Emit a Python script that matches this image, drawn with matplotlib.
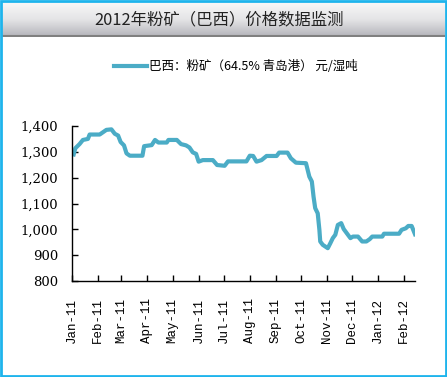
import numpy as np
import pandas as pd
import matplotlib.pyplot as plt
import matplotlib.dates as mdates
from matplotlib.patches import Rectangle

# price readings (yuan / wet ton)
dates = ['2011-01-03', '2011-01-05', '2011-01-10', '2011-01-14', '2011-01-20', '2011-01-22',
         '2011-02-03', '2011-02-07', '2011-02-11', '2011-02-17', '2011-02-21', '2011-02-25',
         '2011-02-28', '2011-03-04', '2011-03-07', '2011-03-11', '2011-03-26', '2011-03-28',
         '2011-04-06', '2011-04-10', '2011-04-14', '2011-04-24', '2011-04-26', '2011-05-06',
         '2011-05-11', '2011-05-17', '2011-05-21', '2011-05-25', '2011-05-29', '2011-06-01',
         '2011-06-06', '2011-06-18', '2011-06-23', '2011-07-02', '2011-07-06', '2011-07-28',
         '2011-08-01', '2011-08-05', '2011-08-09', '2011-08-15', '2011-08-21', '2011-09-02',
         '2011-09-05', '2011-09-15', '2011-09-19', '2011-09-25', '2011-10-07', '2011-10-09',
         '2011-10-11', '2011-10-14', '2011-10-16', '2011-10-18', '2011-10-21', '2011-10-23',
         '2011-10-24', '2011-10-27', '2011-11-02', '2011-11-05', '2011-11-08', '2011-11-11',
         '2011-11-14', '2011-11-18', '2011-11-21', '2011-11-26', '2011-11-29', '2011-12-02',
         '2011-12-08', '2011-12-13', '2011-12-18', '2011-12-22', '2011-12-25', '2012-01-06',
         '2012-01-08', '2012-01-26', '2012-01-29', '2012-02-03', '2012-02-06', '2012-02-10',
         '2012-02-14']
prices = [1290, 1314, 1330, 1346, 1350, 1367,
          1367, 1376, 1385, 1387, 1370, 1363,
          1338, 1325, 1294, 1285, 1285, 1322,
          1326, 1346, 1336, 1336, 1346, 1346,
          1330, 1325, 1317, 1298, 1292, 1262,
          1268, 1268, 1249, 1246, 1263, 1263,
          1285, 1284, 1262, 1268, 1284, 1284,
          1297, 1297, 1275, 1258, 1256, 1230,
          1204, 1185, 1127, 1082, 1062, 998,
          953, 940, 927, 946, 966, 979,
          1017, 1024, 1001, 979, 966, 972,
          972, 953, 953, 962, 972, 972,
          983, 983, 998, 1004, 1013, 1013,
          981]
yticks = [800, 900, 1000, 1100, 1200, 1300, 1400]
title = '2012年粉矿（巴西）价格数据监测'
legend_label = '巴西：粉矿（64.5% 青岛港） 元/湿吨'

cjk = ['Noto Sans CJK SC', 'DejaVu Sans']
line_color = '#4BACC6'

x = pd.to_datetime(dates)

fig = plt.figure(figsize=(4.47, 3.77), dpi=100)
W, H = 447, 377

# title band with grey gradient
band = fig.add_axes([2 / W, 1 - 37 / H, (W - 4) / W, 35 / H])
grad = np.linspace(0, 1, 64)[:, None]
band.imshow(grad, aspect='auto', cmap=plt.matplotlib.colors.LinearSegmentedColormap.from_list(
    'g', ['#f8f8f8', '#e4e4e6', '#b4b4ba']), extent=[0, 1, 0, 1], origin='upper')
band.axhline(0.02, color='#808080', lw=1.5)
band.set_xlim(0, 1)
band.set_ylim(0, 1)
band.axis('off')
band.text(219 / W, 0.5, title, ha='center', va='center', fontsize=11.8,
          family=cjk, color='#222222')

# outer blue frame
fig.patches.append(Rectangle((1 / W, 1 / H), (W - 2) / W, (H - 2) / H, transform=fig.transFigure,
                             fill=False, edgecolor='#1EB4EC', lw=2))

ax = fig.add_axes([72 / W, 1 - 281 / H, (415 - 72) / W, (281 - 126) / H])
line, = ax.plot(x, prices, color=line_color, lw=3, solid_joinstyle='round')
ax.set_ylim(800, 1400)
ax.set_xlim(pd.Timestamp('2011-01-01'), pd.Timestamp('2012-02-14'))
ax.set_yticks(yticks)
ax.set_yticklabels([f'{v:,}' for v in yticks], family='DejaVu Serif', fontsize=9.5)
ax.xaxis.set_major_locator(mdates.MonthLocator())
ax.xaxis.set_major_formatter(mdates.DateFormatter('%b-%y'))
for lbl in ax.get_xticklabels():
    lbl.set_family('Liberation Mono')
    lbl.set_fontsize(9)
    lbl.set_rotation(90)
ax.tick_params(axis='x', direction='in', length=4, pad=12, width=1)
ax.tick_params(axis='y', direction='in', length=4, pad=10, width=1)
ax.spines['top'].set_visible(False)
ax.spines['right'].set_visible(False)
for s in ['left', 'bottom']:
    ax.spines[s].set_linewidth(1)

fig.legend([line], [legend_label], loc='center', bbox_to_anchor=(236 / W, 1 - 67 / H),
           frameon=False, prop={'family': cjk, 'size': 9}, handlelength=2.6, handletextpad=0.2)

fig.savefig('out.png', dpi=100)
